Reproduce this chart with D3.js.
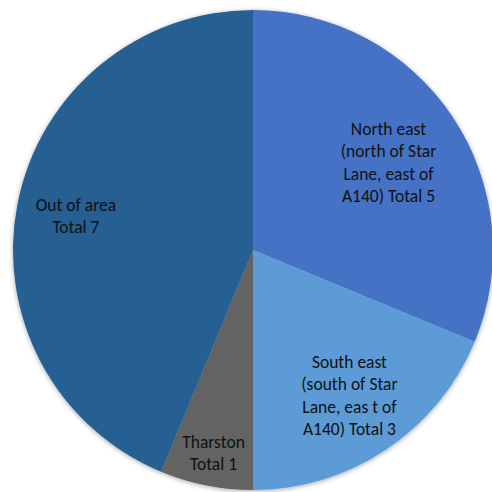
<html>
  <head>
    <script src="https://d3js.org/d3.v7.min.js"></script>
    <style>
      body { margin: 0; background: #fff; }
    </style>
  </head>
  <body>
    <svg id="vis"></svg>
  </body>
  <script>
    // Chart data
    var categories = ["North east", "South east", "Tharston", "Out of area"]
    var values = [5, 3, 1, 7]
    var labels = [
      ["North east", "(north of Star", "Lane, east of", "A140) Total 5"],
      ["South east", "(south of Star", "Lane, eas t of", "A140) Total 3"],
      ["Tharston", "Total 1"],
      ["Out of area", "Total 7"]
    ]
    var colors = ["#4472C4", "#5B9BD5", "#636363", "#255E91"]

    var width = 492, height = 492
    var cx = 253, cy = 250, radius = 240
    // label placement: share of radius, and angle nudge (degrees) off the slice middle
    var labelPos = [0.659, 0.748, 0.886, 0.747]
    var labelTurn = [2.7, 1.25, -0.55, -2.25]

    var svg = d3.select("svg")
      .attr("width", width)
      .attr("height", height)

    var defs = svg.append("defs")
    var f = defs.append("filter").attr("id", "shadow")
      .attr("x", "-10%").attr("y", "-10%").attr("width", "120%").attr("height", "120%")
    f.append("feDropShadow")
      .attr("dx", 0).attr("dy", 1).attr("stdDeviation", 2.5)
      .attr("flood-color", "#000").attr("flood-opacity", 0.35)

    var g = svg.append("g").attr("transform", "translate(" + cx + "," + cy + ")")

    var pie = d3.pie().sort(null).value(function(d){ return d })
    var arcs = pie(values)

    var arc = d3.arc().innerRadius(0).outerRadius(radius)

    g.append("g").attr("filter", "url(#shadow)")
      .selectAll("path")
      .data(arcs)
      .enter()
      .append("path")
      .attr("d", arc)
      .attr("fill", function(d, i){ return colors[i] })

    // Labels
    var lineH = 22.4
    g.selectAll("text.lbl")
      .data(arcs)
      .enter()
      .append("text")
      .attr("class", "lbl")
      .attr("font-family", "Carlito, Lato, 'Open Sans', sans-serif")
      .attr("font-size", "17.5px")
      .attr("fill", "#111")
      .attr("text-anchor", "middle")
      .each(function(d, i){
        var r = radius * labelPos[i]
        var a = (d.startAngle + d.endAngle) / 2 + labelTurn[i] * Math.PI / 180
        var x = Math.sin(a) * r
        var y = -Math.cos(a) * r
        var lines = labels[i]
        var y0 = y - (lines.length - 1) * lineH / 2
        d3.select(this).selectAll("tspan")
          .data(lines)
          .enter()
          .append("tspan")
          .attr("x", x)
          .attr("y", function(t, j){ return y0 + j * lineH })
          .text(function(t){ return t })
      })
  </script>
</html>
